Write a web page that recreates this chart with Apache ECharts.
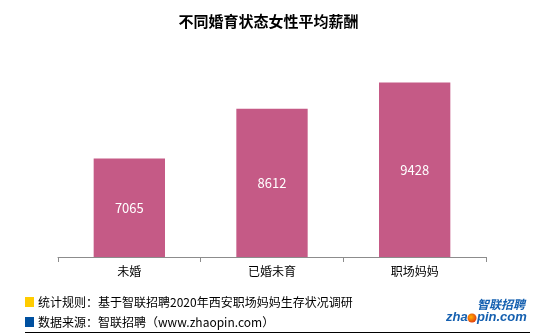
<!DOCTYPE html>
<html><head><meta charset="utf-8">
<script src="https://cdn.jsdelivr.net/npm/echarts@6/dist/echarts.min.js"></script>
<style>html,body{margin:0;padding:0;background:#fff}#c{width:537px;height:336px}</style>
</head><body><div id="c"></div>
<script>
const categories = ['未婚', '已婚未育', '职场妈妈'];
const salaries = [7065, 8612, 9428];
const titleText = '不同婚育状态女性平均薪酬';
const note1 = '统计规则：基于智联招聘2020年西安职场妈妈生存状况调研';
const note2 = '数据来源：智联招聘（www.zhaopin.com）';

const chart = echarts.init(document.getElementById('c'), null, {renderer: 'canvas'});
const font = '"Microsoft YaHei","Noto Sans CJK SC",sans-serif';
const logoFont = 'italic bold 13px "Liberation Sans",Arial,sans-serif';
chart.setOption({
  animation: false,
  title: {text: titleText, left: 'center', top: 9,
    textStyle: {fontSize: 15, fontWeight: 'bold', color: '#000', fontFamily: font}},
  grid: {left: 58, right: 51, top: 64, bottom: 79},
  xAxis: {type: 'category', data: categories,
    axisLine: {lineStyle: {color: '#8c8c8c'}},
    axisTick: {show: true, length: 5, lineStyle: {color: '#8c8c8c'}},
    axisLabel: {color: '#000', fontSize: 12, margin: 8, fontFamily: font}},
  yAxis: {type: 'value', min: 4000, max: 10000, show: false, splitLine: {show: false}},
  series: [{type: 'bar', data: salaries, barWidth: '50%',
    itemStyle: {color: '#C55A86'},
    label: {show: true, position: 'inside', color: '#fff', fontSize: 13, fontFamily: font}}],
  graphic: [
    {type: 'rect', shape: {x: 25, y: 297, width: 9, height: 10}, style: {fill: '#FFCC00'}},
    {type: 'rect', shape: {x: 25, y: 317, width: 9, height: 10}, style: {fill: '#0050A0'}},
    {type: 'text', x: 38, y: 302, style: {text: note1, fill: '#000', font: '12px ' + font, textVerticalAlign: 'middle'}},
    {type: 'text', x: 38, y: 322, style: {text: note2, fill: '#000', font: '12px ' + font, textVerticalAlign: 'middle'}},
    {type: 'line', shape: {x1: 25, y1: 332.5, x2: 530, y2: 332.5}, style: {stroke: '#000', lineWidth: 1}},
    {type: 'text', x: 477, y: 298, style: {text: '智联招聘', font: 'italic bold 12px "Noto Sans CJK SC",sans-serif', fill: '#1560B0'}},
    {type: 'text', x: 446, y: 311, style: {text: 'zha', font: logoFont, fill: '#1560B0'}},
    {type: 'circle', shape: {cx: 472, cy: 318, r: 4.5}, style: {fill: {type: 'radial', x: 0.4, y: 0.4, r: 0.7, colorStops: [{offset: 0, color: '#FFB000'}, {offset: 1, color: '#E03010'}]}}},
    {type: 'text', x: 477, y: 311, style: {text: 'pin.com', font: logoFont, fill: '#1560B0'}}
  ]
});
</script></body></html>
